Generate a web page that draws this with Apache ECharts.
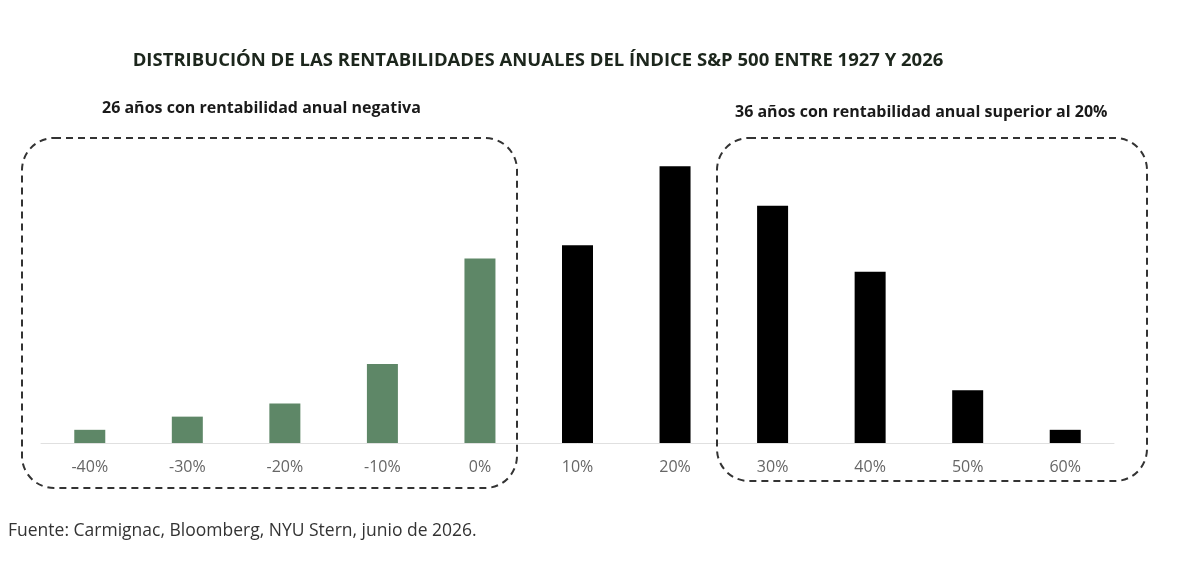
<!DOCTYPE html>
<html>
<head>
<meta charset="utf-8">
<script src="https://cdn.jsdelivr.net/npm/echarts@6/dist/echarts.min.js"></script>
<style>
html,body{margin:0;padding:0;background:#fff;}
#c{width:1200px;height:573px;}
</style>
</head>
<body>
<div id="c"></div>
<script>
const categories = ['-40%','-30%','-20%','-10%','0%','10%','20%','30%','40%','50%','60%'];
const years = [1, 2, 3, 6, 14, 15, 21, 18, 13, 4, 1];
const barColors = ['#5e8767','#5e8767','#5e8767','#5e8767','#5e8767','#000000','#000000','#000000','#000000','#000000','#000000'];
const titleText = 'DISTRIBUCIÓN DE LAS RENTABILIDADES ANUALES DEL ÍNDICE S&P 500 ENTRE 1927 Y 2026';
const noteLeft = '26 años con rentabilidad anual negativa';
const noteRight = '36 años con rentabilidad anual superior al 20%';
const sourceText = 'Fuente: Carmignac, Bloomberg, NYU Stern, junio de 2026.';

const chart = echarts.init(document.getElementById('c'));
const FONT = '"Open Sans", "Noto Sans", sans-serif';
chart.setOption({
  animation: false,
  textStyle: { fontFamily: FONT },
  title: {
    text: titleText,
    left: 533, top: 46, textAlign: 'center',
    textStyle: { fontFamily: FONT, fontSize: 18.5, fontWeight: 'bold', color: '#1c261c' }
  },
  grid: { left: 41, right: 86, top: 153, bottom: 130 },
  xAxis: {
    type: 'category',
    data: categories,
    axisLine: { lineStyle: { color: '#e0e0e0', width: 1 } },
    axisTick: { show: false },
    axisLabel: { color: '#666666', fontSize: 16, margin: 16, fontFamily: FONT }
  },
  yAxis: {
    type: 'value', min: 0, max: 22,
    show: false, splitLine: { show: false }
  },
  series: [{
    type: 'bar',
    barWidth: 31,
    data: years.map((v, i) => ({ value: v, itemStyle: { color: barColors[i] } }))
  }],
  graphic: [
    { type: 'text', left: 102, top: 100, style: { text: noteLeft, font: 'bold 16px "Open Sans", sans-serif', fill: '#1a1a1a' } },
    { type: 'text', left: 735, top: 104, style: { text: noteRight, font: 'bold 16px "Open Sans", sans-serif', fill: '#1a1a1a' } },
    { type: 'rect', shape: { x: 22, y: 138, width: 495, height: 350, r: 32 }, style: { fill: 'none', stroke: '#333333', lineWidth: 2, lineDash: [7, 5] }, z: 10 },
    { type: 'rect', shape: { x: 717, y: 138, width: 430, height: 343, r: 32 }, style: { fill: 'none', stroke: '#333333', lineWidth: 2, lineDash: [7, 5] }, z: 10 },
    { type: 'text', left: 8, top: 522, style: { text: sourceText, font: '17.5px "Open Sans", sans-serif', fill: '#333333' } }
  ]
});
</script>
</body>
</html>
